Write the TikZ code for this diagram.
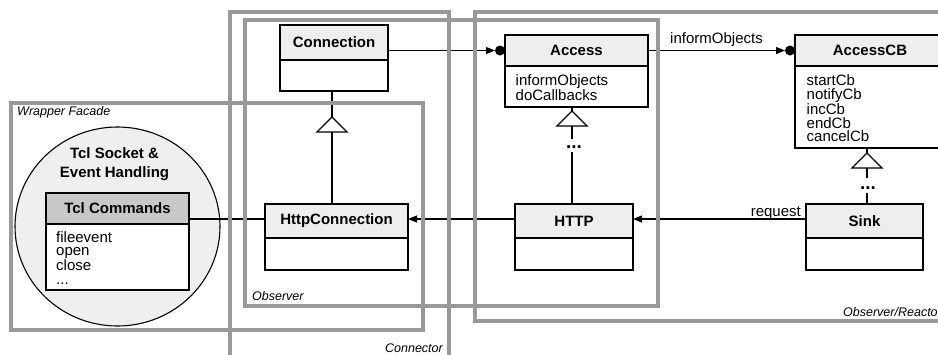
\documentclass[tikz,border=0pt]{standalone}
\usepackage{fontspec}
\setmainfont{Liberation Sans}
\usetikzlibrary{arrows.meta,shapes.geometric,calc}
\definecolor{hdrlight}{HTML}{EEEEEE}
\definecolor{hdrdark}{HTML}{C8C8C8}
\definecolor{pkg}{HTML}{999999}
\definecolor{circfill}{HTML}{EFEFEF}
\begin{document}
\begin{tikzpicture}[x=1pt,y=-1pt,
  hdr/.style={draw, line width=1.2pt, fill=hdrlight, inner sep=0, outer sep=0, anchor=north west, font=\fontsize{15}{17}\selectfont\bfseries},
  bodyb/.style={draw, line width=1.2pt, fill=white, inner sep=0, outer sep=0, anchor=north west},
  ops/.style={anchor=north west, inner sep=0, align=left, font=\fontsize{15}{13.8}\selectfont},
  conn/.style={line width=1.1pt},
  arr/.style={conn, -{Triangle[length=9pt,width=7pt]}},
  dotn/.style={circle, fill=black, minimum size=10pt, inner sep=0, outer sep=0},
  pkgbox/.style={draw=pkg, line width=4pt},
  pkglbl/.style={font=\fontsize{12.5}{14}\selectfont\itshape, inner sep=0},
  inh/.style={draw, line width=1.1pt, fill=white, line join=miter},
  more/.style={font=\fontsize{19}{19}\selectfont\bfseries, inner sep=0, anchor=base},
  lbl/.style={font=\fontsize{15}{14}\selectfont, inner sep=0}
]
\useasboundingbox (0,0) rectangle (938,354);

% Tcl circle
\node[ellipse, draw, line width=1.1pt, fill=circfill, minimum width=205pt, minimum height=199pt, inner sep=0] (tclcirc) at (117.5,226.5) {};
\node[font=\fontsize{15}{19}\selectfont\bfseries, align=center, anchor=north, inner sep=0] (tcltitle) at (114.5,147.5) {Tcl Socket \&\\Event Handling};

% classes
\node[hdr, fill=hdrdark, minimum width=143pt, minimum height=31pt] (tclH) at (46,193) {Tcl Commands};
\node[bodyb, minimum width=143pt, minimum height=66pt] (tclB) at (46,224) {};
\node[ops] (tclOps) at (56,231) {fileevent\\open\\close\\...};

\node[hdr, minimum width=108pt, minimum height=35pt] (connH) at (280,25) {Connection};
\node[bodyb, minimum width=108pt, minimum height=31pt] (connB) at (280,60) {};

\node[hdr, minimum width=143pt, minimum height=31pt] (accH) at (505,35) {Access};
\node[bodyb, minimum width=143pt, minimum height=41pt] (accB) at (505,66) {};
\node[ops] (accOps) at (515.5,74.5) {informObjects\\doCallbacks};

\node[hdr, minimum width=150pt, minimum height=31pt] (cbH) at (795,35) {AccessCB};
\node[bodyb, minimum width=150pt, minimum height=82pt] (cbB) at (795,66) {};
\node[ops] (cbOps) at (806.5,74.5) {startCb\\notifyCb\\incCb\\endCb\\cancelCb};

\node[hdr, minimum width=143pt, minimum height=34pt] (hcH) at (265,204) {HttpConnection};
\node[bodyb, minimum width=143pt, minimum height=32pt] (hcB) at (265,238) {};

\node[hdr, minimum width=118pt, minimum height=34pt] (httpH) at (515,204) {HTTP};
\node[bodyb, minimum width=118pt, minimum height=32pt] (httpB) at (515,238) {};

\node[hdr, minimum width=117pt, minimum height=34pt] (sinkH) at (806,204) {Sink};
\node[bodyb, minimum width=117pt, minimum height=32pt] (sinkB) at (806,238) {};

% associations with dots
\node[dotn, anchor=east] (d1) at (accH.west) {};
\draw[arr] (connH.east |- d1.west) -- (d1.west);
\node[dotn, anchor=east] (d2) at (cbH.west) {};
\draw[arr] (accH.east) -- node[lbl, above=3pt] (infolbl) {informObjects} (d2.west);

% inheritance Connection <- HttpConnection
\coordinate (t1) at (332,117);
\coordinate (t1b) at (332,132);
\draw[conn] (t1 |- connB.south) -- (t1);
\draw[inh] (t1) -- ++(-15,15) -- ++(30,0) -- cycle;
\draw[conn] (t1b) -- (t1b |- hcH.north);

% inheritance Access <- HTTP
\coordinate (t2) at (572,111);
\coordinate (t2b) at (572,126);
\coordinate (m2a) at (572,139);
\coordinate (m2b) at (572,152);
\draw[conn] (t2 |- accB.south) -- (t2);
\draw[inh] (t2) -- ++(-15,15) -- ++(30,0) -- cycle;
\draw[conn] (t2b) -- (m2a);
\node[more] (m2) at (574,148) {...};
\draw[conn] (m2b) -- (m2b |- httpH.north);

% inheritance AccessCB <- Sink
\coordinate (t3) at (867,153);
\coordinate (t3b) at (867,168);
\coordinate (m3a) at (867,178);
\coordinate (m3b) at (867,193);
\draw[conn] (t3 |- cbB.south) -- (t3);
\draw[inh] (t3) -- ++(-15,15) -- ++(30,0) -- cycle;
\draw[conn] (t3b) -- (m3a);
\node[more] (m3) at (868,189) {...};
\draw[conn] (m3b) -- (m3b |- sinkH.north);

% bottom row connectors
\coordinate (hcW) at ($(hcH.west)+(0,-2)$);
\coordinate (hcE) at ($(hcH.east)+(0,-2)$);
\coordinate (httpW) at ($(httpH.west)+(0,-2)$);
\coordinate (httpE) at ($(httpH.east)+(0,-2)$);
\coordinate (sinkW) at ($(sinkH.west)+(0,-2)$);
\draw[conn] (tclH.east |- hcW) -- (hcW);
\draw[arr] (httpW) -- (hcE);
\draw[arr] (sinkW) -- (httpE);
\node[lbl, anchor=base east] (reqlbl) at ($(sinkW)+(-5,-2.5)$) {request};

% package frames
\draw[pkgbox] (11,103) rectangle (423,330);
\draw[pkgbox] (230,360) -- (230,12) -- (449,12) -- (449,360);
\draw[pkgbox] (245,20) rectangle (658,306);
\draw[pkgbox] (945,12) -- (475,12) -- (475,321) -- (945,321);

\node[pkglbl, anchor=base west] (lblWF) at (17,115) {Wrapper Facade};
\node[pkglbl, anchor=base west] (lblObs) at (252,300) {Observer};
\node[pkglbl, anchor=base east] (lblConn) at (443,352) {Connector};
\node[pkglbl, anchor=base west] (lblOR) at (843,316) {Observer/Reactor};
\end{tikzpicture}
\end{document}
